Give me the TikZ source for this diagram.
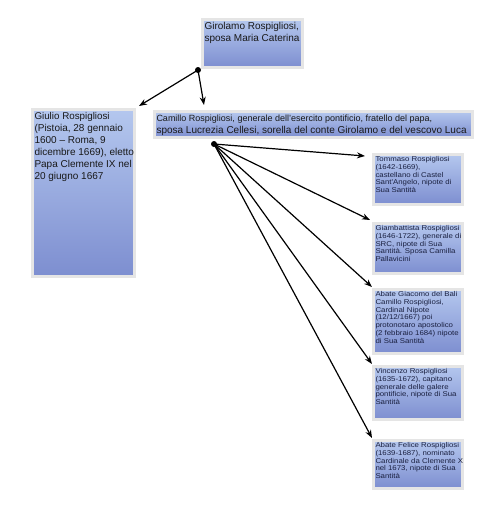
\documentclass[tikz,border=0pt]{standalone}
\usepackage{fontspec}
\setmainfont{Liberation Sans}
\newfontfamily\widefont[FakeStretch=1.12]{Liberation Sans}
\usetikzlibrary{arrows.meta,shadows}
\definecolor{famtop}{HTML}{B4C7EE}
\definecolor{fambot}{HTML}{7D8ED0}
\definecolor{famtext}{HTML}{1A2040}
\newcommand{\famtxt}[3]{\parbox[t][#2][t]{#1}{\begin{tabular}[t]{@{}l@{}}#3\end{tabular}}}
\begin{document}
\begin{tikzpicture}[x=1pt, y=-1pt, >={Stealth[length=8pt,width=6pt]},
  fambox/.style={anchor=north west, inner sep=2pt, top color=famtop, bottom color=fambot,
    draw=white!80!gray, line width=3pt, drop shadow={opacity=0.2, shadow xshift=0.6pt, shadow yshift=-1.2pt},
    font=\fontsize{10}{12}\selectfont, text=black!90},
  kidbox/.style={fambox, font=\widefont\fontsize{7}{7.7}\selectfont, text=famtext},
  dot/.style={circle, fill=black, inner sep=0pt, minimum size=6pt},
  link/.style={->, line width=1.2pt}]
\useasboundingbox (0,0) rectangle (481,512);
\node[fambox] (gir) at (201,18) {\famtxt{96pt}{44pt}{\fontsize{10}{12.7}\selectfont Girolamo Rospigliosi,\\sposa Maria Caterina}};
\node[fambox] (giu) at (31,108) {\famtxt{98pt}{163pt}{\fontsize{9.8}{11.7}\selectfont Giulio Rospigliosi\\(Pistoia, 28 gennaio\\1600 – Roma, 9\\dicembre 1669), eletto\\Papa Clemente IX nel\\20 giugno 1667}};
\node[fambox] (cam) at (153,110) {\famtxt{314pt}{22pt}{\fontsize{9}{11}\selectfont Camillo Rospigliosi, generale dell'esercito pontificio, fratello del papa,\\sposa Lucrezia Cellesi, sorella del conte Girolamo e del vescovo Luca}};
\node[kidbox] (tom) at (372,153) {\famtxt{85pt}{46pt}{Tommaso Rospigliosi\\(1642-1669),\\castellano di Castel\\Sant'Angelo, nipote di\\Sua Santità}};
\node[kidbox] (gia) at (372,222) {\famtxt{85pt}{46pt}{Giambattista Rospigliosi\\(1646-1722), generale di\\SRC, nipote di Sua\\Santità. Sposa Camilla\\Pallavicini}};
\node[kidbox] (aba) at (372,288) {\famtxt{85pt}{60pt}{Abate Giacomo del Bali\\Camillo Rospigliosi,\\Cardinal Nipote\\(12/12/1667) poi\\protonotaro apostolico\\(2 febbraio 1684) nipote\\di Sua Santità}};
\node[kidbox] (vin) at (372,365) {\famtxt{85pt}{49pt}{Vincenzo Rospigliosi\\(1635-1672), capitano\\generale delle galere\\pontificie, nipote di Sua\\Santità}};
\node[kidbox] (fel) at (372,439) {\famtxt{85pt}{44pt}{Abate Felice Rospigliosi\\(1639-1687), nominato\\Cardinale da Clemente X\\nel 1673, nipote di Sua\\Santità}};
\node[dot] (d1) at (198,70) {};
\node[dot] (d2) at (214,144) {};
\draw[link] (d1.center) -- ([xshift=3pt,yshift=2pt]giu.north east);
\draw[link] (d1.center) -- ([xshift=51pt,yshift=5pt]cam.north west);
\draw[link] (d2.center) -- ([xshift=-7pt,yshift=-3pt]tom.north west);
\draw[link] (d2.center) -- ([xshift=-2pt,yshift=2pt]gia.north west);
\draw[link] (d2.center) -- ([xshift=0pt,yshift=1pt]aba.north west);
\draw[link] (d2.center) -- ([xshift=0pt,yshift=1pt]vin.north west);
\draw[link] (d2.center) -- ([xshift=0pt,yshift=1pt]fel.north west);
\end{tikzpicture}
\end{document}
